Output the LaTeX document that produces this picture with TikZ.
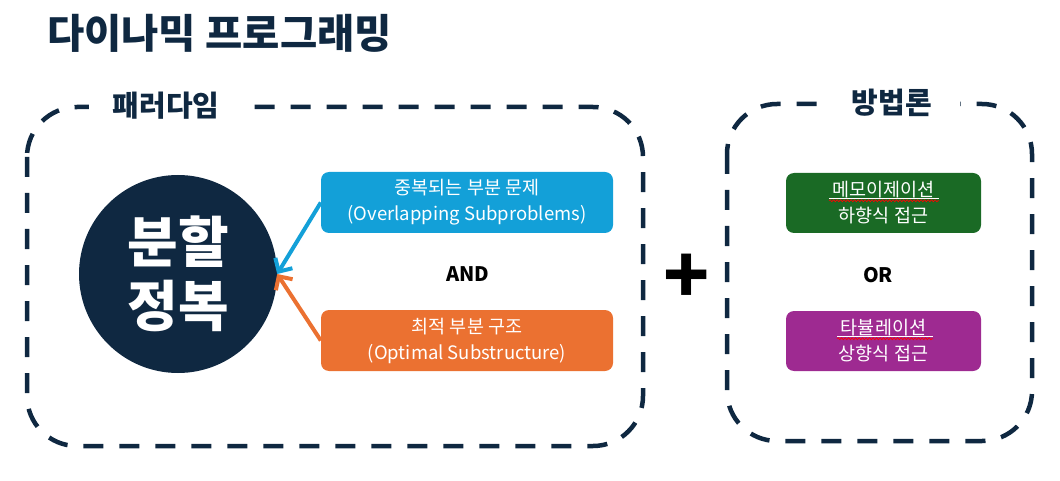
\documentclass[tikz,border=0pt]{standalone}
\usepackage{fontspec}
\setmainfont{Noto Sans CJK KR}
\usetikzlibrary{arrows.meta,decorations.pathmorphing}
\definecolor{navy}{HTML}{0F2841}
\definecolor{cblue}{HTML}{13A0D8}
\definecolor{corange}{HTML}{EB7131}
\definecolor{cgreen}{HTML}{1A6A25}
\definecolor{cpurple}{HTML}{9E2A91}
\tikzset{
  dashbox/.style={draw=navy,line width=4.5pt,dash pattern=on 20pt off 16pt,rounded corners=50pt},
  boxlabel/.style={fill=white,text=navy,font=\fontsize{29}{32}\selectfont\bfseries,inner ysep=2pt},
  infobox/.style={rounded corners=8pt,text=white,align=center,inner sep=0pt,
    font=\fontsize{18.5}{26}\selectfont},
  conn/.style={line width=4pt,-{Straight Barb[length=10pt,width=20pt,line width=4pt]}},
  joinword/.style={font=\fontsize{20}{22}\selectfont\bfseries,text=black},
  squiggle/.style={draw=red,line width=0.7pt,decorate,decoration={snake,amplitude=1pt,segment length=3.5pt}}
}
\begin{document}
\begin{tikzpicture}[x=1pt,y=-1pt]
\useasboundingbox (0,0) rectangle (1060,481);
% title
\node[anchor=west,inner sep=0pt,text=navy,font=\fontsize{40.5}{44}\selectfont\bfseries] (title) at (47,33) {다이나믹 프로그래밍};
% dashed boxes
\draw[dashbox] (27,107) rectangle (643,446);
\draw[dashbox] (727,104) rectangle (1032,441);
\node[boxlabel,inner xsep=24pt] (lblL) at (166,106) {패러다임};
\node[boxlabel,inner xsep=28pt] (lblR) at (892,103) {방법론};
% circle
\node[circle,fill=navy,minimum size=198pt,inner sep=0pt,text=white,align=center,
  font=\fontsize{55}{64}\selectfont\bfseries] (dc) at (178,274) {분할\\정복};
% boxes
\node[infobox,fill=cblue,minimum width=292pt,minimum height=61pt] (ov) at (467,202.5) {중복되는 부분 문제\\(Overlapping Subproblems)};
\node[infobox,fill=corange,minimum width=292pt,minimum height=61pt] (os) at (467,340.5) {최적 부분 구조\\(Optimal Substructure)};
\node[joinword] (and) at (468,274) {AND};
\draw[conn,draw=cblue] (ov.west) -- (dc.east);
\draw[conn,draw=corange] (os.west) -- (dc.east);
% plus
\node[font=\fontsize{76}{76}\selectfont\bfseries,text=black,inner sep=0pt] (plus) at (687,279) {+};
% right boxes
\node[infobox,fill=cgreen,minimum width=195pt,minimum height=60pt] (memo) at (883.5,203) {메모이제이션\\하향식 접근};
\node[joinword] (or) at (878,275) {OR};
\node[infobox,fill=cpurple,minimum width=195pt,minimum height=60pt] (tab) at (883.5,341) {타뷸레이션\\상향식 접근};
% spell-check underlines
\coordinate (m1) at (829,198.5); \coordinate (m2) at (939,198.5);
\draw[white,line width=0.7pt] (m1) -- (m2);
\draw[squiggle] ([yshift=-2.2pt]m1) -- ([yshift=-2.2pt]m2);
\coordinate (t1) at (837,336.5); \coordinate (t2) at (933,336.5);
\draw[white,line width=0.7pt] (t1) -- (t2);
\draw[squiggle] ([yshift=-2.2pt]t1) -- ([yshift=-2.2pt]t2);
\end{tikzpicture}
\end{document}
